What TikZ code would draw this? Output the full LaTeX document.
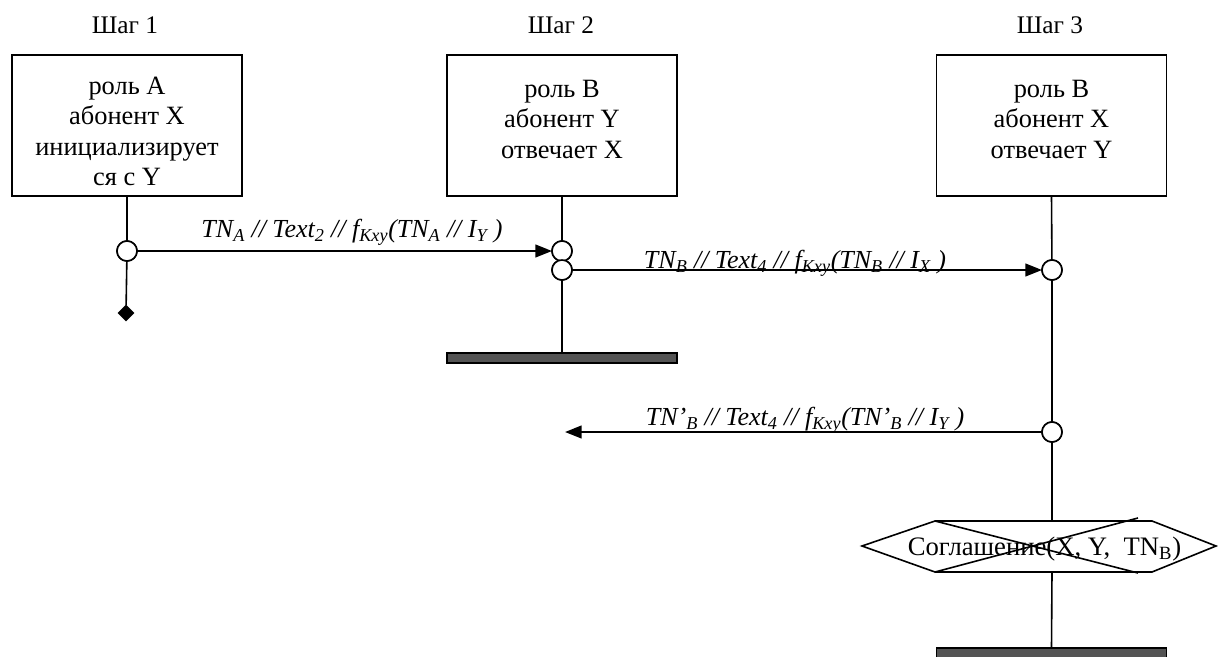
\documentclass[tikz,border=0pt]{standalone}
\usepackage{fontspec}
\setmainfont{Liberation Serif}
\usetikzlibrary{shapes.geometric,arrows.meta}
\begin{document}
\begin{tikzpicture}[x=0.75pt,y=-0.75pt,
  every node/.style={inner sep=0pt,outer sep=0pt},
  box/.style={draw,line width=1.4pt,minimum width=172.5pt,minimum height=105.75pt},
  boxtext/.style={anchor=north,align=center,font=\fontsize{19.8}{22.8}\selectfont},
  head/.style={anchor=base,font=\fontsize{19}{22}\selectfont},
  dot/.style={circle,draw,line width=1.2pt,fill=white,minimum size=15pt},
  endmark/.style={diamond,fill=black,minimum size=12.5pt},
  bar/.style={draw,line width=0.9pt,fill=black!67,minimum width=172.5pt,minimum height=7.5pt},
  life/.style={line width=1.2pt},
  msg/.style={line width=1.6pt,-{Triangle[length=12.5pt,width=9.5pt]}},
  lbl/.style={anchor=base,font=\fontsize{19.5}{22}\selectfont\itshape},
  hexline/.style={line width=1.2pt},
  hextext/.style={anchor=base,font=\fontsize{20}{22}\selectfont},
]
\useasboundingbox (0,0) rectangle (1218,657);

% headings
\node[head] (h1) at (125,33) {Шаг 1};
\node[head] (h2) at (561,33) {Шаг 2};
\node[head] (h3) at (1050,33) {Шаг 3};

% boxes
\node[box] (b1) at (127,125.5) {};
\node[box] (b2) at (562,125.5) {};
\node[box] (b3) at (1051.5,125.5) {};
\node[boxtext] (t1) at (127,77) {роль А\\абонент X\\инициализирует\\ся с Y};
\node[boxtext] (t2) at (562,80) {роль В\\абонент Y\\отвечает X};
\node[boxtext] (t3) at (1051.5,80) {роль В\\абонент X\\отвечает Y};

% lifeline nodes
\node[dot] (c1) at (127,251) {};
\node[endmark] (d1) at (126,313) {};
\node[dot] (c2a) at (562,251) {};
\node[dot] (c2b) at (562,270) {};
\node[bar] (bar2) at (562,358) {};
\node[dot] (c3a) at (1052,270) {};
\node[dot] (c3b) at (1052,432) {};
\coordinate (hexN) at (1052,521);
\coordinate (hexS) at (1052,572);
\node[bar] (bar3) at (1051.5,653) {};
\coordinate (end3) at (565,432);

% lifelines
\draw[life] (b1.south) -- (c1);
\draw[life] (c1) -- (d1);
\draw[life] (b2.south) -- (c2a);
\draw[life] (c2b) -- (bar2.north);
\draw[life] (b3.south) -- (c3a);
\draw[life] (c3a) -- (c3b);
\draw[life] (c3b) -- (hexN);
\draw[life] (hexS) -- (bar3.north);

% redraw circles on top
\node[dot] at (c1) {};
\node[dot] at (c2a) {};
\node[dot] at (c2b) {};
\node[dot] at (c3a) {};
\node[dot] at (c3b) {};

% messages
\draw[msg] (c1) -- (c2a);
\draw[msg] (c2b) -- (c3a);
\draw[msg] (c3b) -- (end3);

\node[lbl] (l1) at (352,237) {TN\textsubscript{A} // Text\textsubscript{2} // f\textsubscript{Kxy}(TN\textsubscript{A} // I\textsubscript{Y} )};
\node[lbl] (l2) at (795,268) {TN\textsubscript{B} // Text\textsubscript{4} // f\textsubscript{Kxy}(TN\textsubscript{B} // I\textsubscript{X} )};
\node[lbl] (l3) at (805,425) {TN’\textsubscript{B} // Text\textsubscript{4} // f\textsubscript{Kxy}(TN’\textsubscript{B} // I\textsubscript{Y} )};

% agreement hexagon
\draw[hexline] (862,546) -- (935,521) -- (1152,521) -- (1216,546) -- (1152,572) -- (935,572) -- cycle;
\draw[hexline] (935,521) -- (1138,573);
\draw[hexline] (935,572) -- (1138,518);
\node[hextext] (hx) at (1044.5,555) {Соглашение(X, Y,\ \ TN\textsubscript{B})};
\end{tikzpicture}
\end{document}
